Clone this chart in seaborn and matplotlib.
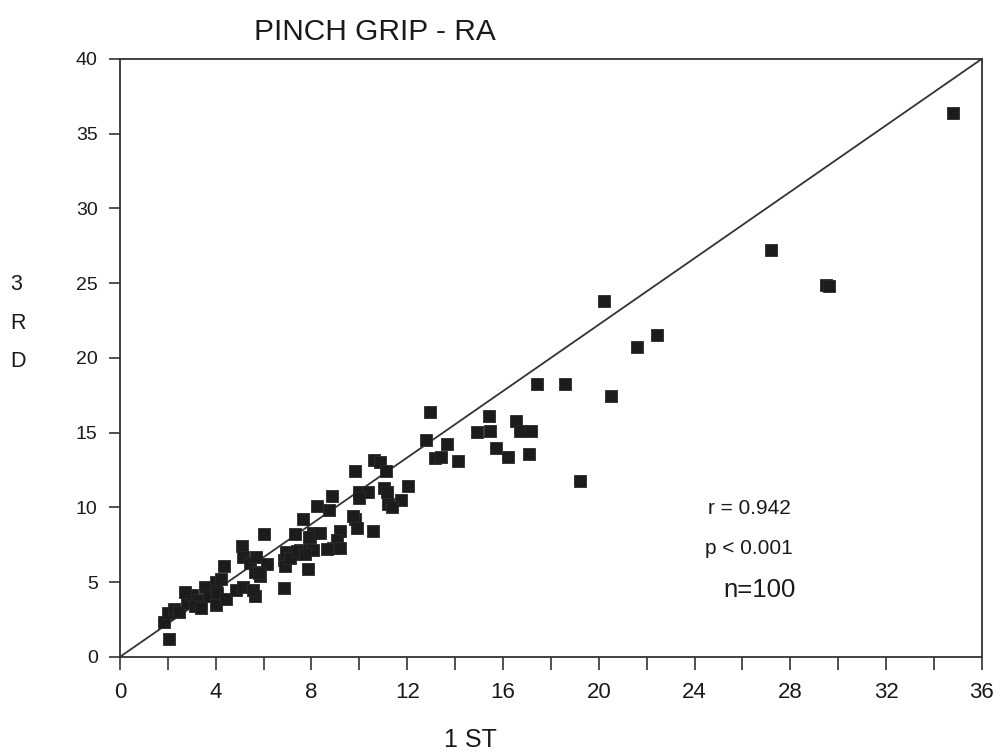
import matplotlib
matplotlib.use("Agg")
import matplotlib.pyplot as plt
import seaborn as sns
import pandas as pd
from matplotlib.ticker import MultipleLocator

first = [2.06, 1.85, 2.0, 2.25, 2.45, 2.8, 3.0, 3.3, 3.15, 2.7,
         3.55, 3.7, 4.0, 4.05, 4.0, 4.45, 4.35, 4.85, 5.15, 5.1,
         5.15, 5.45, 5.7, 5.65, 5.65, 5.85, 6.15, 6.0, 6.85, 6.85,
         6.95, 6.9, 7.3, 7.25, 7.65, 7.85, 7.95, 8.05, 8.25, 7.9,
         7.5, 8.05, 4.2, 5.55, 5.8, 7.1, 8.85, 8.75, 9.8, 9.9,
         10.55, 9.2, 8.35, 9.05, 8.9, 7.4, 7.75, 8.65, 9.2, 10.0,
         11.2, 10.6, 10.85, 12.8, 13.15, 9.8, 11.1, 10.35, 10.0, 11.05,
         11.15, 12.05, 11.75, 11.35, 9.75, 12.95, 13.65, 13.4, 14.1, 14.9,
         15.4, 15.45, 16.55, 16.7, 17.15, 15.7, 16.2, 17.1, 19.2, 17.4,
         18.6, 20.2, 20.5, 21.6, 22.45, 27.2, 29.5, 34.8, 29.6, 3.4]
third = [1.2, 2.3, 2.9, 3.2, 3.0, 3.6, 4.15, 3.8, 3.4, 4.35,
         4.7, 4.1, 5.0, 4.3, 3.5, 3.9, 6.1, 4.5, 4.7, 7.4,
         6.7, 6.3, 6.7, 5.7, 4.1, 5.4, 6.2, 8.2, 4.6, 6.5,
         7.0, 6.05, 8.2, 6.85, 9.2, 5.85, 7.5, 8.3, 10.1, 8.0,
         7.15, 7.15, 5.2, 4.5, 5.6, 6.6, 10.75, 9.85, 9.2, 8.6,
         8.45, 8.4, 8.3, 7.85, 7.3, 7.05, 6.85, 7.2, 7.3, 11.0,
         10.2, 13.2, 13.05, 14.5, 13.3, 12.4, 12.4, 11.05, 10.65, 11.3,
         11.0, 11.4, 10.5, 10.05, 9.4, 16.4, 14.25, 13.35, 13.1, 15.05,
         16.1, 15.1, 15.75, 15.1, 15.1, 14.0, 13.4, 13.6, 11.75, 18.25,
         18.25, 23.8, 17.45, 20.7, 21.5, 27.2, 24.9, 36.4, 24.8, 3.3]

line_x = [0, 36]
line_y = [0, 40]
x_ticks = [0, 4, 8, 12, 16, 20, 24, 28, 32, 36]
y_ticks = [0, 5, 10, 15, 20, 25, 30, 35, 40]

df = pd.DataFrame({"first": first, "third": third})

sns.set_theme(style="white")
plt.rcParams["font.family"] = ["Liberation Sans", "DejaVu Sans"]

fig = plt.figure(figsize=(10.08, 7.55), dpi=100)
ax = fig.add_axes([0.119, 0.130, 0.855, 0.792])

ax.plot(line_x, line_y, color="#333333", lw=1.3, zorder=1)
sns.scatterplot(data=df, x="first", y="third", marker="s", s=80,
                color="#1c1c1c", edgecolor="#2a2a2a", linewidth=0.6,
                ax=ax, zorder=3, legend=False)

ax.set_xlim(0, 36)
ax.set_ylim(0, 40)
ax.set_xticks(x_ticks)
ax.set_yticks(y_ticks)
ax.xaxis.set_minor_locator(MultipleLocator(2))
ax.tick_params(axis="x", which="both", direction="out", length=9, width=1.2,
               color="#333333", bottom=True, pad=9)
ax.tick_params(axis="y", which="major", direction="out", length=8, width=1.2,
               color="#333333", left=True, pad=8)
for lab in ax.get_xticklabels():
    lab.set_fontsize(16)
    lab.set_color("#1a1a1a")
for lab in ax.get_yticklabels():
    lab.set_fontsize(14)
    lab.set_color("#1a1a1a")
for sp in ax.spines.values():
    sp.set_visible(True)
    sp.set_color("#333333")
    sp.set_linewidth(1.3)

ax.set_xlabel("")
ax.set_ylabel("")
fig.text(0.467, 0.020, "1 ST", fontsize=18, color="#1a1a1a", ha="center",
         va="center")
fig.text(0.010, 0.572, "3\nR\nD", fontsize=15.5, color="#1a1a1a", ha="left",
         va="center", linespacing=2.1)
fig.text(0.372, 0.958, "PINCH GRIP - RA", fontsize=21.5, color="#1a1a1a",
         ha="center", va="center")

fig.text(0.784, 0.326, "r = 0.942", fontsize=15, color="#1a1a1a",
         ha="right", va="center")
fig.text(0.786, 0.274, "p < 0.001", fontsize=15, color="#1a1a1a",
         ha="right", va="center")
fig.text(0.789, 0.219, "n=100", fontsize=18.5, color="#1a1a1a",
         ha="right", va="center")

fig.savefig("out.png", dpi=100, facecolor="white")
